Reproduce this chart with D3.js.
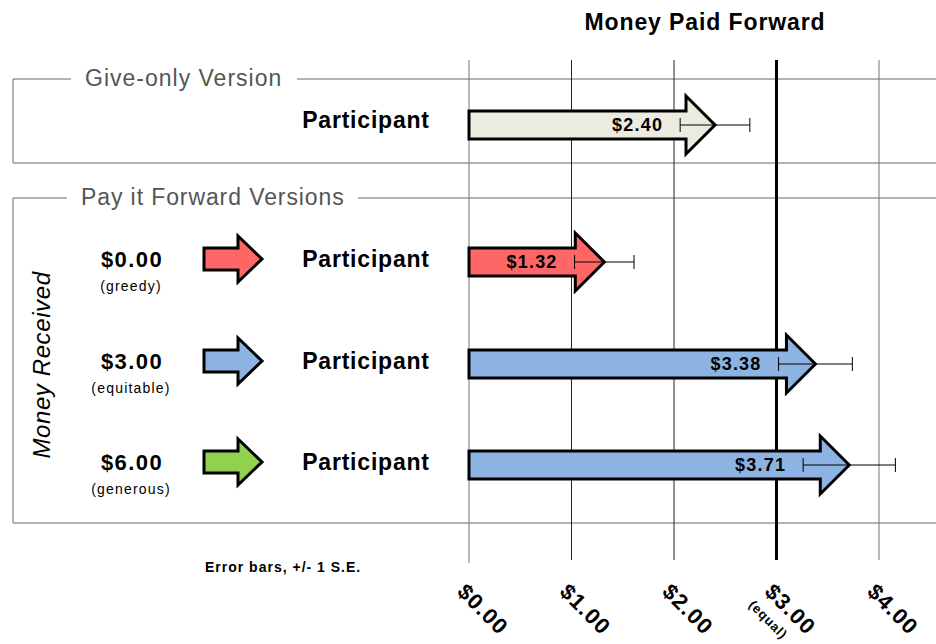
<!DOCTYPE html>
<html>
<head>
<meta charset="utf-8">
<script src="https://cdn.jsdelivr.net/npm/d3@7"></script>
<style>
  body { margin: 0; background: #fff; }
  text { font-family: "Liberation Sans", Arial, sans-serif; }
</style>
</head>
<body>
<div id="chart"></div>
<script>
// data
const conditions = ["Give-only", "greedy", "equitable", "generous"];
const paidForward = [2.40, 1.32, 3.38, 3.71];
const stdErr = [0.34, 0.29, 0.36, 0.45];
const arrowFills = ["#ECEBE0", "#FF6666", "#8DB3E2", "#8DB3E2"];
const receivedLabels = ["$0.00", "$3.00", "$6.00"];
const receivedNotes = ["(greedy)", "(equitable)", "(generous)"];
const receivedFills = ["#FF6666", "#8DB3E2", "#92D050"];
const tickValues = [0, 1, 2, 3, 4];
const tickLabels = ["$0.00", "$1.00", "$2.00", "$3.00", "$4.00"];

const width = 936, height = 644;

const svg = d3.select("#chart").append("svg")
    .attr("width", width)
    .attr("height", height);

const x = d3.scaleLinear().domain([0, 4]).range([469, 879]);
const y = d3.scaleOrdinal().domain(conditions).range([125, 262, 364, 465]);

// arrow outline: body then head
function arrowPath(x0, x1, cy, bh, hh, hl) {
    const p = d3.path();
    p.moveTo(x0, cy - bh);
    p.lineTo(x1 - hl, cy - bh);
    p.lineTo(x1 - hl, cy - hh);
    p.lineTo(x1, cy);
    p.lineTo(x1 - hl, cy + hh);
    p.lineTo(x1 - hl, cy + bh);
    p.lineTo(x0, cy + bh);
    p.closePath();
    return p.toString();
}

// group boxes (open on the right)
function groupBox(top, bottom, label, labelX, lineGapL, lineGapR, spacing) {
    svg.append("path")
        .attr("d", `M${width},${top}H${lineGapR}M${lineGapL},${top}H13V${bottom}H${width}`)
        .attr("fill", "none")
        .attr("stroke", "#666")
        .attr("stroke-width", 1);
    svg.append("text")
        .attr("x", labelX)
        .attr("y", top + 7)
        .attr("font-size", 23)
        .attr("letter-spacing", spacing)
        .attr("fill", "#555")
        .text(label);
}
groupBox(79, 163, "Give-only Version", 85, 71, 297, 1.0);
groupBox(198, 523, "Pay it Forward Versions", 81, 67, 358, 0.9);

// gridlines
svg.append("g").selectAll("line")
    .data(tickValues)
    .join("line")
    .attr("x1", d => x(d)).attr("x2", d => x(d))
    .attr("y1", 60).attr("y2", d => (d === 0 ? 563 : 560))
    .attr("stroke", d => (d === 3 ? "#000" : (d === 0 || d === 4 ? "#777" : "#222")))
    .attr("stroke-width", d => (d === 3 ? 3 : 1));

// title
svg.append("text")
    .attr("x", 705)
    .attr("y", 30)
    .attr("text-anchor", "middle")
    .attr("font-size", 23)
    .attr("letter-spacing", 0.9)
    .attr("font-weight", "bold")
    .text("Money Paid Forward");

// tick labels, rotated
const tickG = svg.append("g").selectAll("g")
    .data(tickValues)
    .join("g")
    .attr("transform", d => `translate(${x(d) - 13},593) rotate(45)`);
tickG.append("text")
    .attr("font-size", 22)
    .attr("letter-spacing", 1.2)
    .attr("font-weight", "bold")
    .text((d, i) => tickLabels[i]);
tickG.filter(d => d === 3).append("text")
    .attr("x", -2)
    .attr("y", 20)
    .attr("font-size", 13)
    .attr("letter-spacing", 0.8)
    .attr("font-weight", "bold")
    .text("(equal)");

// participant labels
svg.append("g").selectAll("text")
    .data(conditions)
    .join("text")
    .attr("x", 366)
    .attr("y", (d, i) => y(d) + (i === 0 ? 3 : 5))
    .attr("text-anchor", "middle")
    .attr("font-size", 23)
    .attr("letter-spacing", 0.8)
    .attr("font-weight", "bold")
    .text("Participant");

// money received labels + small arrows
const recvRows = conditions.slice(1);
svg.append("g").selectAll("text")
    .data(recvRows)
    .join("text")
    .attr("x", 132)
    .attr("y", d => y(d) + 5)
    .attr("text-anchor", "middle")
    .attr("font-size", 22)
    .attr("letter-spacing", 1.4)
    .attr("font-weight", "bold")
    .text((d, i) => receivedLabels[i]);
svg.append("g").selectAll("text")
    .data(recvRows)
    .join("text")
    .attr("x", 131)
    .attr("y", d => y(d) + 29)
    .attr("text-anchor", "middle")
    .attr("font-size", 14)
    .attr("letter-spacing", 1.2)
    .text((d, i) => receivedNotes[i]);
svg.append("g").selectAll("path")
    .data(recvRows)
    .join("path")
    .attr("d", d => arrowPath(204, 262, y(d) - 3, 11, 23, 24))
    .attr("fill", (d, i) => receivedFills[i])
    .attr("stroke", "#000")
    .attr("stroke-width", 3)
    .attr("stroke-linejoin", "miter");

svg.append("text")
    .attr("transform", "translate(50,365) rotate(-90)")
    .attr("text-anchor", "middle")
    .attr("font-size", 24)
    .attr("letter-spacing", 0.6)
    .attr("font-style", "italic")
    .text("Money Received");

// main arrows
svg.append("g").selectAll("path")
    .data(conditions)
    .join("path")
    .attr("d", (d, i) => arrowPath(x(0), x(paidForward[i]), y(d), 14, 29, 29))
    .attr("fill", (d, i) => arrowFills[i])
    .attr("stroke", "#000")
    .attr("stroke-width", 3)
    .attr("stroke-linejoin", "miter");

// value labels
svg.append("g").selectAll("text")
    .data(conditions)
    .join("text")
    .attr("x", (d, i) => x(paidForward[i] - stdErr[i]) - 17)
    .attr("y", d => y(d) + 6)
    .attr("text-anchor", "end")
    .attr("font-size", 18)
    .attr("letter-spacing", 1.2)
    .attr("font-weight", "bold")
    .text((d, i) => "$" + paidForward[i].toFixed(2));

// error bars
const err = svg.append("g")
    .attr("stroke", "#000")
    .attr("stroke-width", 1)
    .selectAll("g")
    .data(conditions)
    .join("g");
err.append("line")
    .attr("x1", (d, i) => x(paidForward[i] - stdErr[i]))
    .attr("x2", (d, i) => x(paidForward[i] + stdErr[i]))
    .attr("y1", d => y(d)).attr("y2", d => y(d));
err.append("line")
    .attr("x1", (d, i) => x(paidForward[i] - stdErr[i]))
    .attr("x2", (d, i) => x(paidForward[i] - stdErr[i]))
    .attr("y1", d => y(d) - 7).attr("y2", d => y(d) + 7);
err.append("line")
    .attr("x1", (d, i) => x(paidForward[i] + stdErr[i]))
    .attr("x2", (d, i) => x(paidForward[i] + stdErr[i]))
    .attr("y1", d => y(d) - 7).attr("y2", d => y(d) + 7);

svg.append("text")
    .attr("x", 205)
    .attr("y", 572)
    .attr("font-size", 14)
    .attr("letter-spacing", 1)
    .attr("font-weight", "bold")
    .text("Error bars, +/- 1 S.E.");
</script>
</body>
</html>
